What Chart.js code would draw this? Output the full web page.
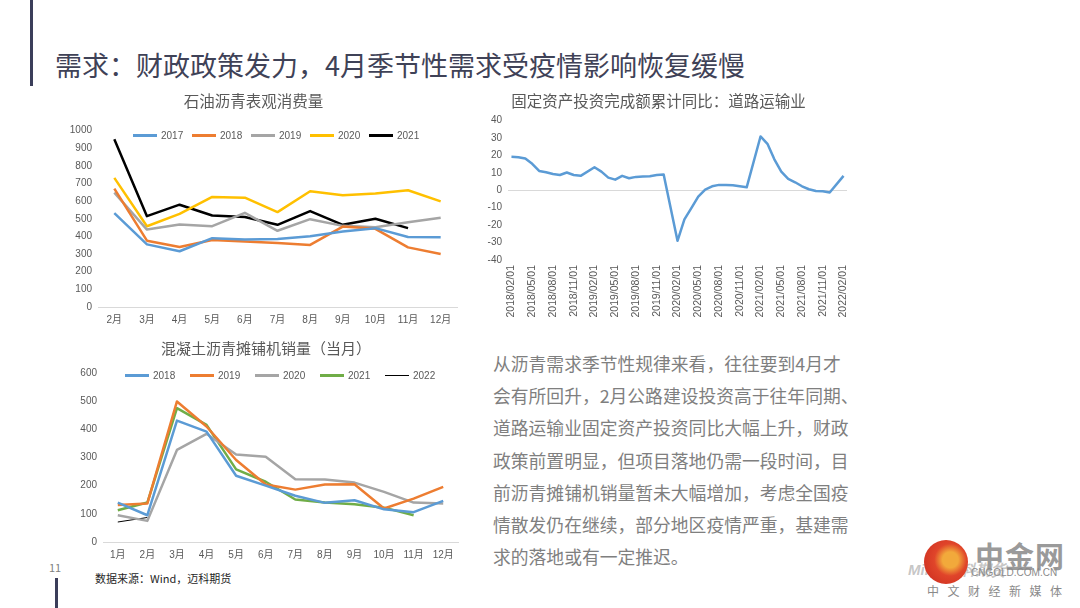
<!DOCTYPE html>
<html>
<head>
<meta charset="utf-8">
<script src="https://cdn.jsdelivr.net/npm/chart.js@4.4.1/dist/chart.umd.min.js"></script>
<style>
    html, body { margin: 0; padding: 0; background: #fff; }
    body { width: 1080px; height: 608px; position: relative; overflow: hidden; font-family: 'Noto Sans CJK SC', sans-serif; }
    .bar-top { position: absolute; left: 30px; top: 0; width: 3px; height: 86px; background: #3b3e5a; }
    .bar-bottom { position: absolute; left: 55px; top: 578px; width: 3px; height: 30px; background: #3b3e5a; }
    .page-no { position: absolute; left: 49px; top: 559px; font-size: 11px; color: #7f7f7f; }
    .slide-title { position: absolute; left: 55px; top: 51px; font-size: 27px; line-height: 28px; color: #3f4257; white-space: nowrap; }
    .box { position: absolute; }
    .legend { position: absolute; display: flex; font-size: 10px; color: #595959; font-family: 'Liberation Sans', 'Noto Sans CJK SC', sans-serif; }
    .legend .item { display: flex; align-items: center; }
    .legend .swatch { display: inline-block; width: 24px; margin-right: 4px; }
    .note { position: absolute; left: 493px; top: 347px; font-size: 17.8px; line-height: 32.2px; color: #7f7f7f; white-space: nowrap; }
    .source { position: absolute; left: 95px; top: 570px; font-size: 11px; color: #262626; }
    .logo-circle { position: absolute; left: 924px; top: 540px; width: 44px; height: 44px; border-radius: 50%; background: radial-gradient(circle at 60% 45%, #f2a93b 0 22%, #e0452a 45%, #c8281e 100%); }
    .logo-big { position: absolute; left: 975px; top: 534px; font-size: 29px; font-weight: bold; color: #9a9a9a; letter-spacing: 1px; }
    .logo-url { position: absolute; left: 971px; top: 567px; font-size: 10px; color: #8a8a8a; font-family: 'Liberation Sans', sans-serif; }
    .logo-sub { position: absolute; left: 927px; top: 582px; font-size: 12px; color: #8a8a8a; letter-spacing: 8.5px; }
    .logo-mark { position: absolute; left: 908px; top: 561px; font-size: 15px; font-weight: bold; font-style: italic; color: rgba(150,150,150,0.55); font-family: 'Liberation Sans', sans-serif; }
</style>
</head>
<body>
<div class="bar-top"></div>
<div class="slide-title">需求：财政政策发力，4月季节性需求受疫情影响恢复缓慢</div>

<div class="box" style="left:50px;top:88px;width:412px;height:242px;"><canvas id="oilChart"></canvas></div>
<div class="legend" id="oilLegend" style="left:133px;top:130px;"></div>

<div class="box" style="left:470px;top:88px;width:384px;height:242px;"><canvas id="invChart"></canvas></div>

<div class="box" style="left:74px;top:335px;width:388px;height:231px;"><canvas id="paverChart"></canvas></div>
<div class="legend" id="paverLegend" style="left:125px;top:370px;"></div>

<div class="note">从沥青需求季节性规律来看，往往要到4月才<br>会有所回升，2月公路建设投资高于往年同期、<br>道路运输业固定资产投资同比大幅上升，财政<br>政策前置明显，但项目落地仍需一段时间，目<br>前沥青摊铺机销量暂未大幅增加，考虑全国疫<br>情散发仍在继续，部分地区疫情严重，基建需<br>求的落地或有一定推迟。</div>

<div class="page-no">11</div>
<div class="bar-bottom"></div>
<div class="source">数据来源：Wind，迈科期货</div>

<div class="logo-mark">Mike 迈科期货</div>
<div class="logo-circle"></div>
<div class="logo-big">中金网</div>
<div class="logo-url">CNGOLD.COM.CN</div>
<div class="logo-sub">中文财经新媒体</div>

<script>
// 石油沥青表观消费量 (万吨)
const oilMonths = ['2月', '3月', '4月', '5月', '6月', '7月', '8月', '9月', '10月', '11月', '12月'];
const oil2017 = [532, 355, 316, 390, 382, 386, 401, 428, 447, 397, 395];
const oil2018 = [671, 376, 340, 380, 371, 363, 352, 456, 443, 338, 300];
const oil2019 = [648, 439, 468, 458, 534, 432, 498, 460, 452, 481, 506];
const oil2020 = [732, 458, 528, 624, 620, 538, 656, 633, 643, 662, 599];
const oil2021 = [951, 515, 580, 519, 510, 466, 544, 466, 500, 447, null];
const oilTicks = { min: 0, max: 1000, step: 100 };

// 固定资产投资完成额累计同比：道路运输业 (%)
const invDates = [
    '2018/02/01', '2018/03/01', '2018/04/01', '2018/05/01', '2018/06/01', '2018/07/01', '2018/08/01', '2018/09/01', '2018/10/01', '2018/11/01', '2018/12/01', '2019/01/01',
    '2019/02/01', '2019/03/01', '2019/04/01', '2019/05/01', '2019/06/01', '2019/07/01', '2019/08/01', '2019/09/01', '2019/10/01', '2019/11/01', '2019/12/01', '2020/01/01',
    '2020/02/01', '2020/03/01', '2020/04/01', '2020/05/01', '2020/06/01', '2020/07/01', '2020/08/01', '2020/09/01', '2020/10/01', '2020/11/01', '2020/12/01', '2021/01/01',
    '2021/02/01', '2021/03/01', '2021/04/01', '2021/05/01', '2021/06/01', '2021/07/01', '2021/08/01', '2021/09/01', '2021/10/01', '2021/11/01', '2021/12/01', '2022/01/01',
    '2022/02/01'
];
const invYoY = [
    19.2, 19.0, 18.2, 15.2, 11.1, 10.4, 9.4, 8.8, 10.2, 8.8, 8.3, null,
    13.2, 10.7, 7.3, 6.1, 8.3, 6.9, 7.7, 7.9, 8.1, 8.8, 9.0, null,
    -29.0, -16.7, -10.2, -3.6, 0.4, 2.3, 3.1, 3.1, 2.9, 2.3, 1.7, null,
    30.9, 26.7, 17.8, 10.7, 6.5, 4.6, 2.3, 0.6, -0.4, -0.6, -1.3, null,
    8.3
];
const invTicks = { min: -40, max: 40, step: 10 };

// 混凝土沥青摊铺机销量 (当月, 台)
const paverMonths = ['1月', '2月', '3月', '4月', '5月', '6月', '7月', '8月', '9月', '10月', '11月', '12月'];
const paver2018 = [140, 95, 431, 392, 235, 200, 164, 139, 148, 116, 106, 146];
const paver2019 = [131, 137, 499, 410, 291, 204, 186, 204, 205, 119, 154, 196];
const paver2020 = [95, 75, 327, 384, 311, 303, 223, 222, 211, 178, 140, 137];
const paver2021 = [113, 140, 475, 416, 258, 214, 151, 140, 134, 122, 95, null];
const paver2022 = [71, 87, null, null, null, null, null, null, null, null, null, null];
const paverTicks = { min: 0, max: 600, step: 100 };

// Palette
const BLUE = '#5b9bd5', ORANGE = '#ed7d31', GRAY = '#a5a5a5', YELLOW = '#ffc000', BLACK = '#000000', GREEN = '#70ad47';
const TEXT = '#595959';
const AXIS = '#d9d9d9';
const TICK_FONT = { family: "'Liberation Sans', 'Noto Sans CJK SC', sans-serif", size: 10 };
const TITLE_FONT = { family: "'Noto Sans CJK SC', sans-serif", size: 15.5, weight: 'normal' };

Chart.defaults.animation = false;
Chart.defaults.color = TEXT;

function lineSet(label, data, color, width) {
    return {
        label: label,
        data: data,
        borderColor: color,
        backgroundColor: color,
        borderWidth: width,
        pointRadius: 0,
        tension: 0,
        spanGaps: false,
        borderJoinStyle: 'round'
    };
}

function buildLegend(id, datasets, itemWidth) {
    const el = document.getElementById(id);
    datasets.forEach(ds => {
        const item = document.createElement('div');
        item.className = 'item';
        item.style.width = itemWidth + 'px';
        item.innerHTML = `<span class="swatch" style="height:${ds.borderWidth}px;background:${ds.borderColor}"></span><span>${ds.label}</span>`;
        el.appendChild(item);
    });
}

function baseOptions(title, titlePad, ticks, yWidth, xHeight, padRight) {
    return {
        responsive: true,
        maintainAspectRatio: false,
        layout: { padding: { left: 0, right: padRight, top: 0, bottom: 0 } },
        plugins: {
            legend: { display: false },
            tooltip: { enabled: false },
            title: { display: true, text: title, color: TEXT, font: TITLE_FONT, padding: titlePad }
        },
        scales: {
            x: {
                offset: true,
                grid: { display: false, drawTicks: false },
                border: { display: true, color: AXIS, width: 1 },
                ticks: { color: TEXT, font: TICK_FONT, padding: 7, autoSkip: false, maxRotation: 0 },
                afterFit: s => { s.height = xHeight; }
            },
            y: {
                min: ticks.min,
                max: ticks.max,
                grid: { display: false, drawTicks: false },
                border: { display: false },
                ticks: { stepSize: ticks.step, color: TEXT, font: TICK_FONT, padding: 6, callback: v => String(v) },
                afterFit: s => { s.width = yWidth; }
            }
        }
    };
}

// Chart 1
function initOilChart() {
    const datasets = [
        lineSet('2017', oil2017, BLUE, 2.5),
        lineSet('2018', oil2018, ORANGE, 2.5),
        lineSet('2019', oil2019, GRAY, 2.5),
        lineSet('2020', oil2020, YELLOW, 2.5),
        lineSet('2021', oil2021, BLACK, 2.5)
    ];
    new Chart(document.getElementById('oilChart'), {
        type: 'line',
        data: { labels: oilMonths, datasets: datasets },
        options: baseOptions('石油沥青表观消费量', { top: 4, bottom: 20 }, oilTicks, 48, 23, 5)
    });
    buildLegend('oilLegend', datasets, 59);
}

// Chart 2
function initInvChart() {
    const opts = baseOptions('固定资产投资完成额累计同比：道路运输业', { top: 4, bottom: 10 }, invTicks, 38, 70, 7);
    opts.scales.x.border = { display: false };
    opts.scales.x.ticks = {
        color: TEXT, font: Object.assign({}, TICK_FONT, { size: 10.5 }), padding: 5, autoSkip: false, maxRotation: 90, minRotation: 90,
        callback: function (val, i) { return i % 3 === 0 ? this.getLabelForValue(val) : ''; }
    };
    // the rotated last label would otherwise push the plot in from the right
    opts.scales.x.afterFit = s => { s.height = 70; s.paddingRight = 0; s.paddingLeft = 0; };
    opts.scales.y.grid = {
        display: true, drawTicks: false, lineWidth: 1,
        color: ctx => (ctx.tick && ctx.tick.value === 0 ? AXIS : 'rgba(0,0,0,0)')
    };
    const ds = lineSet('道路运输业', invYoY, BLUE, 2.5);
    ds.spanGaps = true;
    new Chart(document.getElementById('invChart'), {
        type: 'line',
        data: { labels: invDates, datasets: [ds] },
        options: opts
    });
}

// Chart 3
function initPaverChart() {
    const datasets = [
        lineSet('2018', paver2018, BLUE, 2.5),
        lineSet('2019', paver2019, ORANGE, 2.5),
        lineSet('2020', paver2020, GRAY, 2.5),
        lineSet('2021', paver2021, GREEN, 2.5),
        lineSet('2022', paver2022, BLACK, 1)
    ];
    const opts = baseOptions('混凝土沥青摊铺机销量（当月）', { top: 4, bottom: 16 }, paverTicks, 29, 24, 4);
    opts.plugins.title.font = Object.assign({}, TITLE_FONT, { size: 15 });
    new Chart(document.getElementById('paverChart'), {
        type: 'line',
        data: { labels: paverMonths, datasets: datasets },
        options: opts
    });
    buildLegend('paverLegend', datasets, 65);
}

document.addEventListener('DOMContentLoaded', () => {
    initOilChart();
    initInvChart();
    initPaverChart();
});
</script>
</body>
</html>
